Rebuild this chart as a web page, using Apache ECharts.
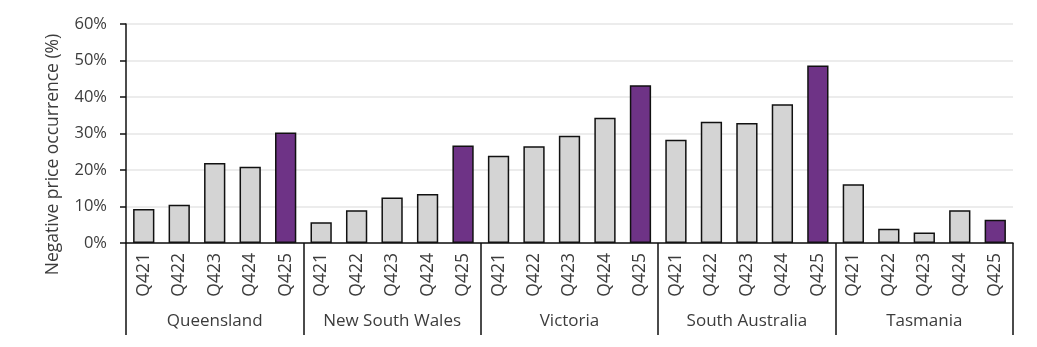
<!DOCTYPE html>
<html>
<head>
<meta charset="utf-8">
<script src="https://cdn.jsdelivr.net/npm/echarts@6/dist/echarts.min.js"></script>
<style>
  html, body { margin: 0; padding: 0; background: #ffffff; }
  #chart { width: 1037px; height: 347px; }
</style>
</head>
<body>
<div id="chart"></div>
<script>
// Negative price occurrence by region, Q4 of each year (%)
const regions = ['Queensland', 'New South Wales', 'Victoria', 'South Australia', 'Tasmania'];
const quarters = ['Q421', 'Q422', 'Q423', 'Q424', 'Q425'];
const queensland = [9.3, 10.5, 21.9, 20.9, 30.3];
const newSouthWales = [5.7, 9.0, 12.5, 13.4, 26.7];
const victoria = [23.9, 26.5, 29.4, 34.3, 43.2];
const southAustralia = [28.3, 33.2, 32.9, 38.0, 48.6];
const tasmania = [16.1, 3.9, 2.9, 9.0, 6.4];
const yTicks = [0, 10, 20, 30, 40, 50, 60];

const byRegion = [queensland, newSouthWales, victoria, southAustralia, tasmania];
const GREY = '#d4d4d4';
const PURPLE = '#6e3386';
const TEXT = '#3c3c3c';
const FONT = 'Open Sans';

const categories = [];
const barData = [];
byRegion.forEach((vals, r) => {
  vals.forEach((v, q) => {
    categories.push(quarters[q]);
    barData.push({
      value: v,
      itemStyle: { color: q === quarters.length - 1 ? PURPLE : GREY }
    });
  });
});

const chart = echarts.init(document.getElementById('chart'), null, { renderer: 'canvas' });
chart.setOption({
  animation: false,
  grid: { left: 126, right: 24, top: 24, bottom: 104, containLabel: false },
  xAxis: [
    {
      type: 'category',
      data: categories,
      position: 'bottom',
      axisLine: { show: true, lineStyle: { color: '#111', width: 1.5 } },
      axisTick: { show: false },
      axisLabel: {
        rotate: 90, margin: 10, interval: 0,
        color: TEXT, fontFamily: FONT, fontSize: 17.5
      },
      splitLine: { show: false }
    },
    {
      type: 'category',
      data: regions,
      position: 'bottom',
      offset: 0,
      axisLine: { show: false },
      axisTick: { show: true, length: 92, interval: 0, lineStyle: { color: '#111', width: 1.5 } },
      axisLabel: { margin: 70, interval: 0, color: TEXT, fontFamily: FONT, fontSize: 17 },
      splitLine: { show: false }
    }
  ],
  yAxis: {
    type: 'value',
    min: yTicks[0],
    max: yTicks[yTicks.length - 1],
    interval: yTicks[1] - yTicks[0],
    name: 'Negative price occurrence (%)',
    nameLocation: 'middle',
    nameGap: 64,
    // extra right padding nudges the rotated title lower down the axis
    nameTextStyle: { color: TEXT, fontFamily: FONT, fontSize: 17.5, padding: [0, 42, 0, 0] },
    axisLine: { show: true, lineStyle: { color: '#111', width: 1.5 } },
    axisTick: { show: true, length: 6, lineStyle: { color: '#111', width: 1.5 } },
    axisLabel: { formatter: '{value}%', margin: 19, color: TEXT, fontFamily: FONT, fontSize: 16.5 },
    splitLine: { show: true, lineStyle: { color: '#e6e6e6', width: 1.5 } }
  },
  series: [
    {
      type: 'bar',
      xAxisIndex: 0,
      data: barData,
      barWidth: '60%',
      itemStyle: { borderColor: '#111', borderWidth: 1.5 }
    }
  ]
});
</script>
</body>
</html>
